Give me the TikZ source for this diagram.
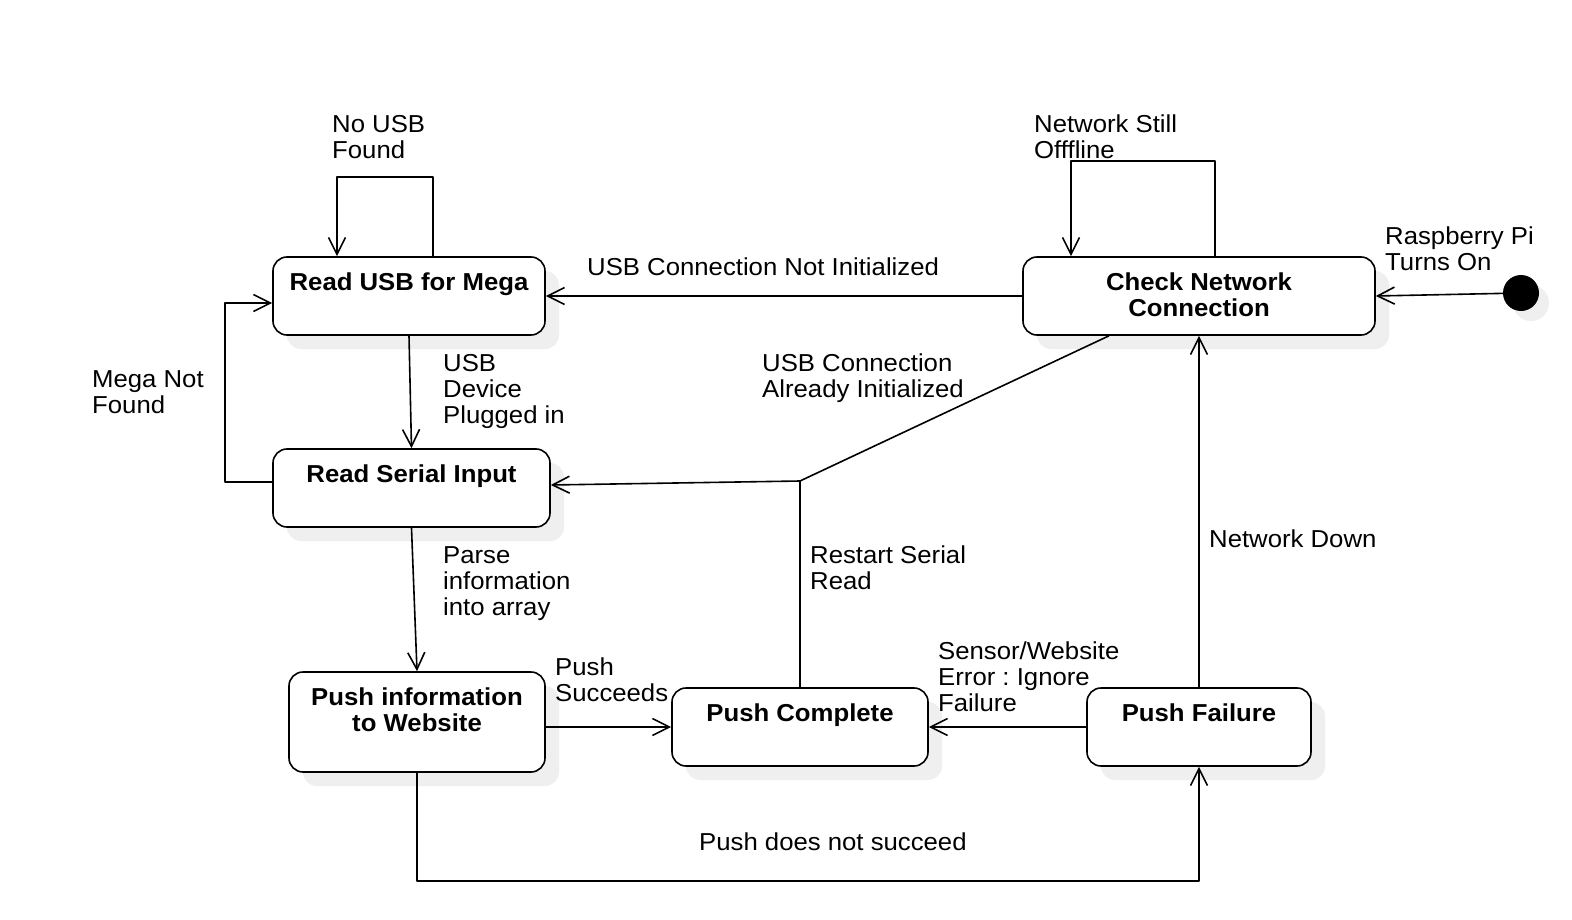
\documentclass[tikz,border=0pt]{standalone}
\usepackage{fontspec}
\setmainfont{Liberation Sans}[FakeStretch=1.05]
\usetikzlibrary{arrows.meta,shadows}
\definecolor{shade}{RGB}{239,239,239}
\frenchspacing

\newcommand{\diagfont}{\fontsize{24.5}{26}\selectfont}
\tikzset{
  stbox/.style={draw, line width=1.6pt, rounded corners=14pt, fill=white,
    drop shadow={shadow xshift=14pt, shadow yshift=-14pt, fill=shade, opacity=1}},
  sttext/.style={font=\diagfont\bfseries, align=center, anchor=north, inner sep=0pt, yshift=-16pt},
  trans/.style={line width=1.6pt, -{Straight Barb[length=17pt,width=17pt]}},
  lbl/.style={font=\diagfont, anchor=north west, inner sep=0pt, align=left}
}

\begin{document}
\begin{tikzpicture}[x=1pt,y=-1pt,line join=round]
  \path[use as bounding box, fill=white] (0,0) rectangle (1572,920);

  \node[stbox, minimum width=272pt, minimum height=78pt, label={[sttext]north:Read USB for Mega}] (usb) at (409,296) {};
  \node[stbox, minimum width=277pt, minimum height=78pt, label={[sttext]north:Read Serial Input}] (serial) at (411.5,488) {};
  \node[stbox, minimum width=256pt, minimum height=100pt, label={[sttext]north:{Push information\\to Website}}] (push) at (417,722) {};
  \node[stbox, minimum width=256pt, minimum height=78pt, label={[sttext]north:Push Complete}] (done) at (800,727) {};
  \node[stbox, minimum width=224pt, minimum height=78pt, label={[sttext]north:Push Failure}] (fail) at (1199,727) {};
  \node[stbox, minimum width=352pt, minimum height=78pt, label={[sttext]north:{Check Network\\Connection}}] (net) at (1199,296) {};
  \node[circle, fill=black, minimum size=36pt, inner sep=0pt,
    drop shadow={shadow xshift=10pt, shadow yshift=-10pt, fill=shade, opacity=1}] (init) at (1521,293) {};
  \coordinate (junc) at (800,481);

  \draw[trans] (init) -- (net.east);
  \draw[trans] ([xshift=16pt]net.north) -- ++(0,-95) -| ([xshift=-128pt]net.north);
  \draw[trans] ([xshift=24pt]usb.north) -- ++(0,-79) -| ([xshift=-72pt]usb.north);
  \draw[trans] (net.west) -- (usb.east);
  \draw[trans] (usb.south) -- (serial.north);
  \draw[trans] ([yshift=6pt]serial.west) -- ++(-47,0) |- ([yshift=-7pt]usb.west);
  \draw[trans] ([xshift=-90pt]net.south) -- (junc) -- ([yshift=3pt]serial.east);
  \draw[line width=1.6pt] (done.north) -- (junc);
  \draw[trans] (serial.south) -- (push.north);
  \draw[trans] (push.east |- done.west) -- (done.west);
  \draw[trans] (fail.west) -- (done.east);
  \draw[trans] (fail.north) -- (net.south);
  \draw[trans] (push.south) -- ++(0,108) -| (fail.south);

  \node[lbl] (lnousb) at (332,115) {No USB\\Found};
  \node[lbl] (loffline) at (1034,115) {Network Still\\Offfline};
  \node[lbl] (lpion) at (1385,227) {Raspberry Pi\\Turns On};
  \node[lbl] (lnotinit) at (587,258) {USB Connection Not Initialized};
  \node[lbl] (lnomega) at (92,370) {Mega Not\\Found};
  \node[lbl] (lplugged) at (443,354) {USB\\Device\\Plugged in};
  \node[lbl] (linit) at (762,354) {USB Connection\\Already Initialized};
  \node[lbl] (lparse) at (443,546) {Parse\\information\\into array};
  \node[lbl] (lrestart) at (810,546) {Restart Serial\\Read};
  \node[lbl] (ldown) at (1209,530) {Network Down};
  \node[lbl] (lerror) at (938,642) {Sensor/Website\\Error : Ignore\\Failure};
  \node[lbl] (lsucceed) at (555,658) {Push\\Succeeds};
  \node[lbl] (lnotsucceed) at (699,833) {Push does not succeed};
\end{tikzpicture}
\end{document}
